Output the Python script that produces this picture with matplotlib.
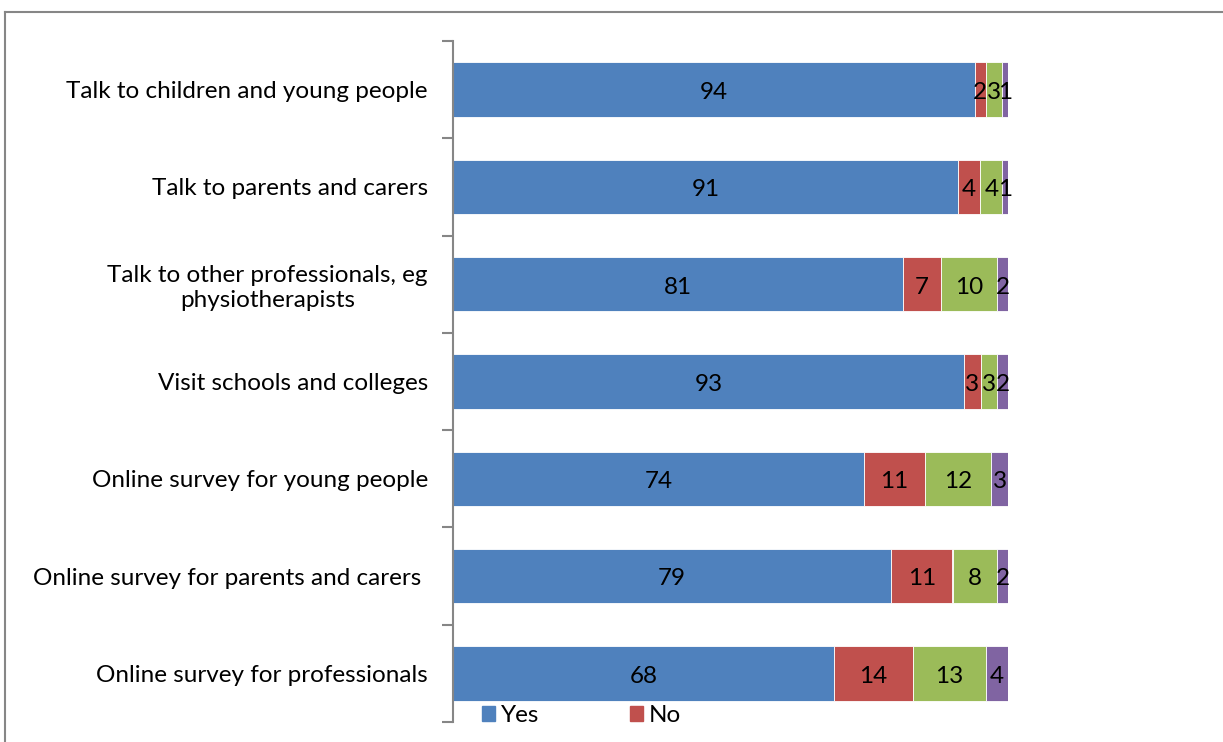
import numpy as np
import matplotlib.pyplot as plt
from matplotlib.patches import Rectangle
from matplotlib.lines import Line2D

plt.rcParams['font.family'] = ['Lato', 'DejaVu Sans']

# --- data ---
categories = [
    "Talk to children and young people",
    "Talk to parents and carers",
    "Talk to other professionals, eg\nphysiotherapists",
    "Visit schools and colleges",
    "Online survey for young people",
    "Online survey for parents and carers ",
    "Online survey for professionals",
]
series_names = ["Yes", "No", "Don't know", "Not applicable"]
yes_vals = [94, 91, 81, 93, 74, 79, 68]
no_vals = [2, 4, 7, 3, 11, 11, 14]
dk_vals = [3, 4, 10, 3, 12, 8, 13]
na_vals = [1, 1, 2, 2, 3, 2, 4]
colors = ["#4F81BD", "#C0504D", "#9BBB59", "#8064A2"]

FS = 17.5
W, H = 1223, 742
fig = plt.figure(figsize=(W / 100, H / 100), dpi=100)
ax = fig.add_axes([453 / W, 1 - 722 / H, (1008 - 453) / W, (722 - 41) / H])

data = np.array([yes_vals, no_vals, dk_vals, na_vals], dtype=float)
# 100% stacked: each row scaled to its own total
pct = data / data.sum(axis=0) * 100
y = np.arange(len(categories))
left = np.zeros(len(categories))
for i, name in enumerate(series_names):
    ax.barh(y, pct[i], left=left, height=0.56, color=colors[i],
            edgecolor="white", linewidth=0.6, label=name)
    for yy, l, w, v in zip(y, left, pct[i], data[i]):
        ax.text(l + w / 2, yy + 0.03, f"{int(v)}", ha="center", va="center",
                fontsize=FS, color="black")
    left += pct[i]

ax.set_xlim(0, 100)
ax.set_ylim(len(categories) - 0.5, -0.5)
ax.xaxis.set_visible(False)
for s in ["top", "right", "bottom"]:
    ax.spines[s].set_visible(False)
ax.spines["left"].set_color("#868686")
ax.spines["left"].set_linewidth(1.5)

# boundary ticks between categories, labels at centres without marks
ax.set_yticks(np.arange(-0.5, len(categories), 1.0))
ax.set_yticklabels([])
ax.set_yticks(y, minor=True)
ax.set_yticklabels(categories, minor=True, fontsize=FS)
ax.tick_params(axis="y", which="major", length=8, width=1.5, color="#868686", direction="out")
ax.tick_params(axis="y", which="minor", length=0, pad=18)
for lab in ax.get_yticklabels(minor=True):
    lab.set_horizontalalignment("right")
    lab.set_multialignment("center")

# legend (only first two entries fit in view)
for i, (xpx, name) in enumerate([(482, series_names[0]), (630, series_names[1])]):
    fig.patches.append(Rectangle((xpx / W, 1 - 721 / H), 13 / W, 15 / H,
                                 transform=fig.transFigure, color=colors[i]))
    fig.text((xpx + 19) / W, 1 - 715 / H, name, fontsize=FS, va="center", ha="left")

# chart area frame
frame_kw = dict(transform=fig.transFigure, color="#868686", linewidth=1.5)
fig.add_artist(Line2D([5 / W, 1], [1 - 12 / H, 1 - 12 / H], **frame_kw))
fig.add_artist(Line2D([5 / W, 5 / W], [1 - 12 / H, 0], **frame_kw))

fig.savefig("out.png", dpi=100)
